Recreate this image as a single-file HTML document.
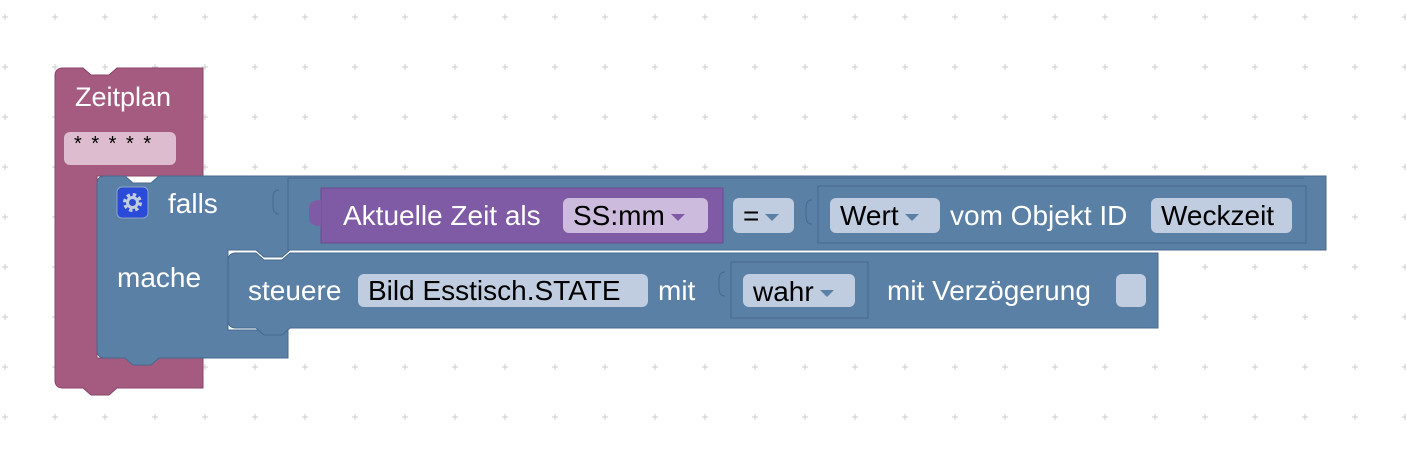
<!DOCTYPE html>
<html><head><meta charset="utf-8"><style>
body{margin:0;width:1406px;height:450px;background:#fff;position:relative;overflow:hidden;font-family:"Liberation Sans",sans-serif;}
.a{position:absolute;box-sizing:border-box;}
.t{position:absolute;color:#fff;font-size:28px;line-height:34px;white-space:nowrap;}
.f{position:absolute;box-sizing:border-box;border-radius:6px;font-size:28px;color:#000;padding-left:10px;white-space:nowrap;}
.tri{display:inline-block;width:0;height:0;border-left:7px solid transparent;border-right:7px solid transparent;border-top:7px solid #5b80a5;vertical-align:middle;margin-left:6px;}
</style></head><body>
<svg class="a" style="left:0;top:0" width="1406" height="450">
<defs><pattern id="g" x="0" y="12" width="50" height="50" patternUnits="userSpaceOnUse">
<path d="M5 2v6M2 5h6" stroke="#ccc" stroke-width="1"/></pattern></defs>
<rect width="1406" height="450" fill="url(#g)"/>
<path d="M63 68H83l8 7h18l8-7H203V176H97V358H203V388H117l-8 7h-18l-8-7H63Q55 388 55 380V76Q55 68 63 68Z" fill="#a55b80" stroke="#8a4468"/>
<path d="M105 176H125l8 7h18l8-7H1326V250H290l-8 7h-18l-8-7H228V330H288V358H159l-8 7h-18l-8-7H105Q97 358 97 350V184Q97 176 105 176Z" fill="#5b80a5" stroke="#46698e"/>
<path d="M288 178V250M288 178H1304" stroke="#46698e" fill="none"/>
<path d="M236 253H256l8 7h18l8-7H1158V328H290l-8 7h-18l-8-7H236Q228 328 228 320V261Q228 253 236 253Z" fill="#5b80a5" stroke="#46698e"/>
<path d="M279 190q-6 0-6 8v8q0 8 6 8" stroke="#46698e" fill="none"/>
<path d="M725 272q-6 0-6 8v8q0 8 6 8" stroke="#46698e" fill="none"/>
<path d="M812 200q-6 0-6 8v8q0 8 6 8" stroke="#46698e" fill="none"/>
<rect x="321" y="188" width="402" height="55" fill="#805ba5" stroke="#6a4a8e"/>
<path d="M321 200q-12 0-12 8v10q0 8 12 8z" fill="#805ba5"/>
<rect x="818" y="186" width="488" height="57" fill="#5b80a5" stroke="#46698e"/>
<rect x="731" y="262" width="137" height="56" fill="#5b80a5" stroke="#46698e"/>
<rect x="117" y="187" width="31" height="31" rx="5" fill="#2a4ad8" stroke="#8ea3c8"/>
<circle cx="132.5" cy="202.5" r="7" fill="none" stroke="#c0cce0" stroke-width="5" stroke-dasharray="3 2.5"/>
<circle cx="132.5" cy="202.5" r="5" fill="none" stroke="#c0cce0" stroke-width="3"/>
</svg>
<div class="t" style="left:75px;top:80px;font-size:27px">Zeitplan</div>
<div class="f" style="left:64px;top:132px;width:112px;height:33px;background:#dcbcce;line-height:24px;font-size:20px;padding-left:10px;letter-spacing:2px">* * * * *</div>
<div class="t" style="left:168px;top:187px">falls</div>
<div class="t" style="left:117px;top:261px">mache</div>
<div class="t" style="left:343px;top:199px">Aktuelle Zeit als</div>
<div class="f" style="left:563px;top:198px;width:145px;height:35px;line-height:35px;background:#ccbbdd">SS:mm<span class="tri" style="border-top-color:#805ba5"></span></div>
<div class="f" style="left:733px;top:198px;width:61px;height:35px;line-height:35px;background:#c0cce0">=<span class="tri"></span></div>
<div class="f" style="left:830px;top:198px;width:110px;height:35px;line-height:35px;background:#c0cce0">Wert<span class="tri"></span></div>
<div class="t" style="left:950px;top:199px">vom Objekt ID</div>
<div class="f" style="left:1151px;top:198px;width:141px;height:35px;line-height:35px;background:#c0cce0">Weckzeit</div>
<div class="t" style="left:248px;top:274px">steuere</div>
<div class="f" style="left:358px;top:274px;width:290px;height:33px;line-height:33px;background:#c0cce0">Bild Esstisch.STATE</div>
<div class="t" style="left:658px;top:274px">mit</div>
<div class="f" style="left:743px;top:274px;width:112px;height:33px;line-height:35px;background:#c0cce0">wahr<span class="tri"></span></div>
<div class="t" style="left:887px;top:274px">mit Verzögerung</div>
<div class="f" style="left:1116px;top:274px;width:30px;height:33px;background:#c0cce0"></div>
</body></html>
